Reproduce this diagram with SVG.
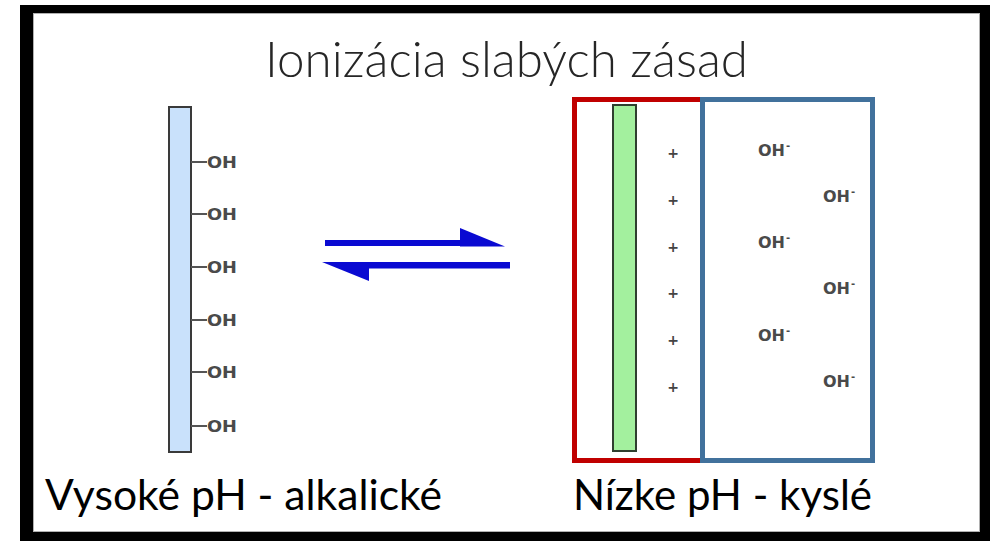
<svg xmlns="http://www.w3.org/2000/svg" width="990" height="541" viewBox="0 0 990 541">
  <style>
    .calibri { font-family: Lato, "Open Sans", "Liberation Sans", sans-serif; }
    .title { font-size: 50px; font-weight: 300; fill: #262626; }
    .label { font-size: 43px; fill: #000; }
    .chem { font-family: "DejaVu Sans", Verdana, sans-serif; font-weight: bold; font-size: 16px; fill: #4a4a4a; }
    .sup { font-size: 10px; }
    .plus { font-family: "DejaVu Sans", sans-serif; font-weight: bold; font-size: 14px; fill: #444; text-anchor: middle; }
    .tick { stroke: #555; stroke-width: 2; }
    .eq { fill: #0a0ad2; }
  </style>

  <!-- slide frame -->
  <rect x="20" y="5" width="970" height="536" fill="#000"/>
  <rect x="33" y="13" width="947" height="519" fill="#fff"/>
  <rect x="33.5" y="13.5" width="946" height="518" fill="none" stroke="#b0b0b0" stroke-width="1"/>

  <g id="title">
    <text class="calibri title" x="265" y="77" textLength="483" lengthAdjust="spacingAndGlyphs">Ionizácia slabých zásad</text>
  </g>

  <!-- un-ionized base chain with OH groups -->
  <g id="base-chain">
    <rect x="169" y="107" width="22" height="345" fill="#c9e1fb" stroke="#3a3a3a" stroke-width="2"/>
    <line class="tick" x1="191" y1="162" x2="207" y2="162"/>
    <line class="tick" x1="191" y1="214" x2="207" y2="214"/>
    <line class="tick" x1="191" y1="267" x2="207" y2="267"/>
    <line class="tick" x1="191" y1="320" x2="207" y2="320"/>
    <line class="tick" x1="191" y1="372" x2="207" y2="372"/>
    <line class="tick" x1="191" y1="426" x2="207" y2="426"/>
    <text class="chem" x="207" y="168" textLength="30" lengthAdjust="spacingAndGlyphs">OH</text>
    <text class="chem" x="207" y="220" textLength="30" lengthAdjust="spacingAndGlyphs">OH</text>
    <text class="chem" x="207" y="273" textLength="30" lengthAdjust="spacingAndGlyphs">OH</text>
    <text class="chem" x="207" y="326" textLength="30" lengthAdjust="spacingAndGlyphs">OH</text>
    <text class="chem" x="207" y="378" textLength="30" lengthAdjust="spacingAndGlyphs">OH</text>
    <text class="chem" x="207" y="432" textLength="30" lengthAdjust="spacingAndGlyphs">OH</text>
  </g>

  <!-- equilibrium arrows -->
  <g id="connectors">
    <rect class="eq" x="325" y="240" width="140" height="6"/>
    <polygon class="eq" points="460,228 505,246.5 460,246.5"/>
    <rect class="eq" x="365" y="262" width="145" height="6.5"/>
    <polygon class="eq" points="322,262 369,262 369,281"/>
  </g>

  <!-- ionized chain (positive charges) -->
  <g id="ionized-chain">
    <rect x="574.5" y="99.5" width="128" height="361" fill="none" stroke="#c00000" stroke-width="5"/>
    <rect x="613" y="105" width="23" height="346" fill="#a3f09e" stroke="#2f3f2f" stroke-width="2"/>
    <text class="plus" x="673" y="158">+</text>
    <text class="plus" x="673" y="205">+</text>
    <text class="plus" x="673" y="252">+</text>
    <text class="plus" x="673" y="298">+</text>
    <text class="plus" x="673" y="345">+</text>
    <text class="plus" x="673" y="392">+</text>
  </g>

  <!-- free hydroxide ions -->
  <g id="hydroxide-ions">
    <rect x="702.5" y="99.5" width="170" height="361" fill="none" stroke="#41719c" stroke-width="5"/>
    <text class="chem" x="758" y="156">OH<tspan class="sup" dx="1" dy="-7">-</tspan></text>
    <text class="chem" x="823" y="202">OH<tspan class="sup" dx="1" dy="-7">-</tspan></text>
    <text class="chem" x="758" y="248">OH<tspan class="sup" dx="1" dy="-7">-</tspan></text>
    <text class="chem" x="823" y="294">OH<tspan class="sup" dx="1" dy="-7">-</tspan></text>
    <text class="chem" x="758" y="341">OH<tspan class="sup" dx="1" dy="-7">-</tspan></text>
    <text class="chem" x="823" y="387">OH<tspan class="sup" dx="1" dy="-7">-</tspan></text>
  </g>

  <g id="label-high-ph">
    <text class="calibri label" x="45" y="510" textLength="397" lengthAdjust="spacingAndGlyphs">Vysoké pH - alkalické</text>
  </g>
  <g id="label-low-ph">
    <text class="calibri label" x="573" y="510" textLength="299" lengthAdjust="spacingAndGlyphs">Nízke pH - kyslé</text>
  </g>
</svg>
